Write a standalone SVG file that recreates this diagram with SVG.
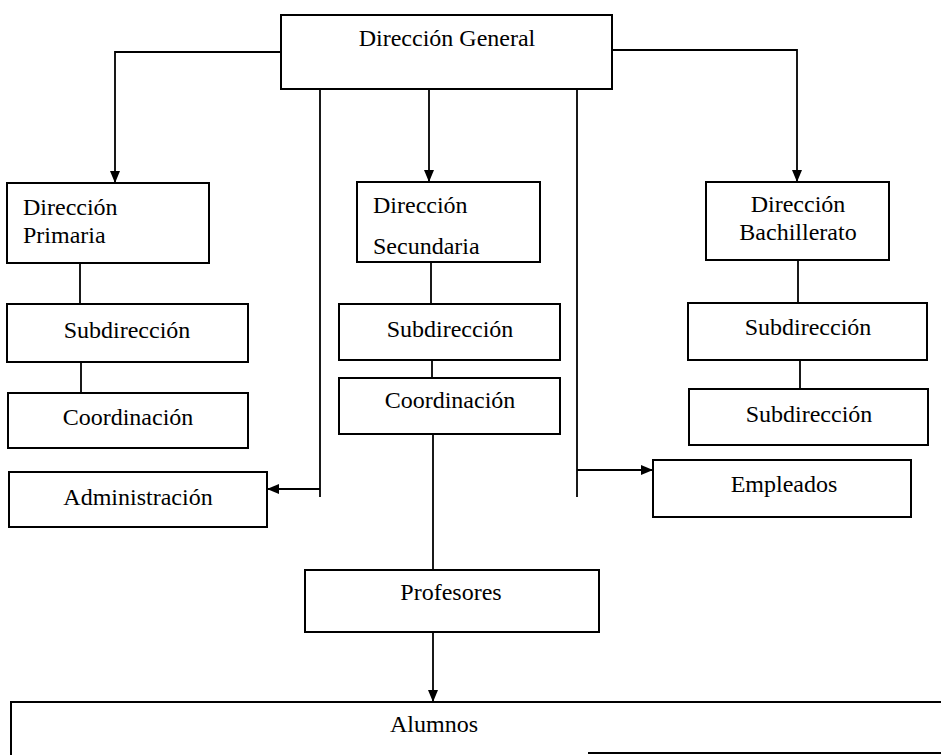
<svg xmlns="http://www.w3.org/2000/svg" width="941" height="755" viewBox="0 0 941 755">
<style>
.box{fill:#fff;stroke:#000;stroke-width:2}
.t{font-family:"Liberation Serif","Times New Roman",serif;font-size:24px;fill:#000}
.c{text-anchor:middle}
.ln{fill:none;stroke:#000;stroke-width:1.8}
</style>
<defs>
<marker id="ah" viewBox="0 0 12 10" refX="12" refY="5" markerWidth="12" markerHeight="10" markerUnits="userSpaceOnUse" orient="auto">
<path d="M0,0 L12,5 L0,10 z" fill="#000"/>
</marker>
</defs>
<rect width="941" height="755" fill="#fff"/>
<g id="connectors">
<path class="ln" d="M281 52 H115 V183" marker-end="url(#ah)"/>
<path class="ln" d="M429 89 V182" marker-end="url(#ah)"/>
<path class="ln" d="M612 50 H797 V182" marker-end="url(#ah)"/>
<path class="ln" d="M320 89 V497"/>
<path class="ln" d="M320 489 H267" marker-end="url(#ah)"/>
<path class="ln" d="M577 89 V497"/>
<path class="ln" d="M577 470 H653" marker-end="url(#ah)"/>
<path class="ln" d="M80 263 V304"/>
<path class="ln" d="M81 362 V393"/>
<path class="ln" d="M431 262 V304"/>
<path class="ln" d="M432 360 V378"/>
<path class="ln" d="M433 434 V570"/>
<path class="ln" d="M433 632 V702" marker-end="url(#ah)"/>
<path class="ln" d="M798 260 V303"/>
<path class="ln" d="M800 360 V389"/>
</g>
<g id="direccion-general">
<rect class="box" x="281" y="15" width="331" height="74"/>
<text class="t c" x="447" y="46">Dirección General</text>
</g>
<g id="direccion-primaria">
<rect class="box" x="7" y="183" width="202" height="80"/>
<text class="t" x="23" y="215">Dirección</text>
<text class="t" x="23" y="243">Primaria</text>
</g>
<g id="direccion-secundaria">
<rect class="box" x="357" y="182" width="183" height="80"/>
<text class="t" x="373" y="213">Dirección</text>
<text class="t" x="373" y="254">Secundaria</text>
</g>
<g id="direccion-bachillerato">
<rect class="box" x="706" y="182" width="183" height="78"/>
<text class="t c" x="798" y="212">Dirección</text>
<text class="t c" x="798" y="240">Bachillerato</text>
</g>
<g id="subdireccion-primaria">
<rect class="box" x="7" y="304" width="241" height="58"/>
<text class="t c" x="127" y="338">Subdirección</text>
</g>
<g id="coordinacion-primaria">
<rect class="box" x="8" y="393" width="240" height="55"/>
<text class="t c" x="128" y="425">Coordinación</text>
</g>
<g id="administracion">
<rect class="box" x="9" y="472" width="258" height="55"/>
<text class="t c" x="138" y="505">Administración</text>
</g>
<g id="subdireccion-secundaria">
<rect class="box" x="339" y="304" width="221" height="56"/>
<text class="t c" x="450" y="337">Subdirección</text>
</g>
<g id="coordinacion-secundaria">
<rect class="box" x="339" y="378" width="221" height="56"/>
<text class="t c" x="450" y="408">Coordinación</text>
</g>
<g id="subdireccion-bachillerato-1">
<rect class="box" x="688" y="303" width="239" height="57"/>
<text class="t c" x="808" y="335">Subdirección</text>
</g>
<g id="subdireccion-bachillerato-2">
<rect class="box" x="689" y="389" width="239" height="56"/>
<text class="t c" x="809" y="422">Subdirección</text>
</g>
<g id="empleados">
<rect class="box" x="653" y="460" width="258" height="57"/>
<text class="t c" x="784" y="492">Empleados</text>
</g>
<g id="profesores">
<rect class="box" x="305" y="570" width="294" height="62"/>
<text class="t c" x="451" y="600">Profesores</text>
</g>
<g id="alumnos">
<path class="ln" style="stroke-width:2" d="M945 702 H11 V755"/>
<path class="ln" style="stroke-width:2" d="M588 753 H941"/>
<text class="t c" x="434" y="732">Alumnos</text>
</g>
</svg>
